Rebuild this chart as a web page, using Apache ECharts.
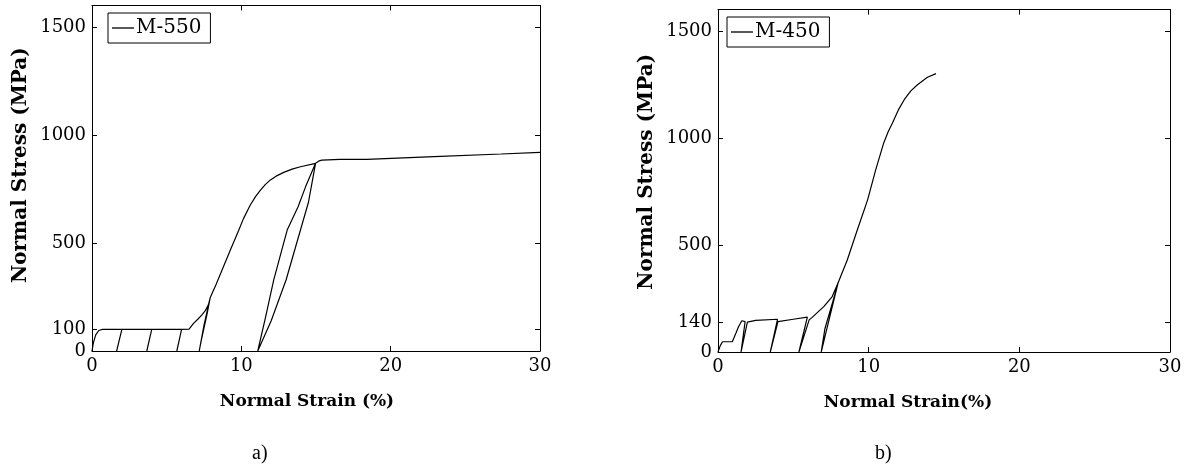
<!DOCTYPE html>
<html>
<head>
<meta charset="utf-8">
<script src="https://cdn.jsdelivr.net/npm/echarts@6/dist/echarts.min.js"></script>
<style>
  html, body { margin: 0; padding: 0; background: #fff; }
  #chart { width: 1187px; height: 468px; }
</style>
</head>
<body>
<div id="chart"></div>
<script>
// M-550 test: strain (%) / stress (MPa), path in loading order
const strain550 = [0, 0.1, 0.25, 0.45, 0.7, 2.0, 1.65, 2.0, 4.0, 3.67, 4.0, 6.0, 5.68, 6.0, 6.5,
  6.6, 6.8, 7.1, 7.36, 7.6, 7.8, 7.92, 7.5, 7.18, 7.35, 7.7, 7.92,
  8.3, 8.8, 9.3, 9.82, 10.15, 10.6, 10.95, 11.28, 11.6, 11.95, 12.4, 12.84, 13.4, 13.96, 14.97,
  14.3, 13.8, 13.07, 12.17, 11.6, 11.1, 12.0, 13.0, 13.96, 14.5, 14.97,
  15.2, 15.4, 16.6, 18.4, 22.9, 27.4, 30];
const stress550 = [0, 40, 75, 95, 100, 100, 0, 100, 100, 0, 100, 100, 0, 100, 101,
  110, 128, 148, 167, 188, 215, 248, 120, 0, 60, 170, 248,
  307, 390, 473, 558, 614, 676, 715, 745, 770, 792, 812, 827, 842, 853, 869,
  760, 668, 560, 329, 150, 0, 140, 330, 560, 690, 869,
  880, 884, 887, 887, 900, 912, 920];

// M-450 test
const strain450 = [0, 0.15, 0.3, 0.95, 1.2, 1.36, 1.58, 1.8, 1.91, 1.53, 1.95, 2.5, 3.95, 3.47, 3.98,
  5.0, 5.93, 5.37, 6.05, 6.25, 7.02, 7.58, 7.98, 7.3, 6.85, 7.1, 7.6, 7.98,
  8.58, 9.25, 9.93, 10.47, 11.0, 11.3, 11.58, 12.0, 12.36, 12.8, 13.24, 13.9, 14.47];
const stress450 = [0, 30, 48, 48, 90, 118, 146, 142, 146, 0, 140, 148, 153, 0, 142,
  153, 163, 0, 150, 162, 212, 259, 325, 130, 0, 110, 230, 325,
  430, 571, 711, 852, 977, 1030, 1070, 1135, 1179, 1220, 1249, 1284, 1301];

const xTicks = [0, 10, 20, 30];
const yTicksA = [0, 100, 500, 1000, 1500];
const yTicksB = [0, 140, 500, 1000, 1500];

const serif = 'DejaVu Serif';

function pairs(xs, ys) {
  return xs.map((x, i) => [x, ys[i]]);
}

const plain = (v) => String(v);

function xAxes(grid, namePad, name) {
  return [
    {
      gridIndex: grid, type: 'value', min: 0, max: 30, interval: 10,
      name: name, nameLocation: 'middle', nameGap: 42,
      nameTextStyle: { fontFamily: serif, fontWeight: 'bold', fontSize: 17, color: '#000', padding: namePad },
      axisLine: { onZero: false, lineStyle: { color: '#000', width: 1 } },
      axisTick: { inside: true, length: 5, lineStyle: { color: '#000' } },
      axisLabel: { fontFamily: serif, fontSize: 18, color: '#000', margin: 6, formatter: plain },
      splitLine: { show: false }
    },
    {
      gridIndex: grid, type: 'value', position: 'top', min: 0, max: 30, interval: 10,
      axisLine: { onZero: false, lineStyle: { color: '#000', width: 1 } },
      axisTick: { inside: true, length: 5, lineStyle: { color: '#000' } },
      axisLabel: { show: false },
      splitLine: { show: false }
    }
  ];
}

function yAxes(grid, ticks, namePad) {
  return [
    {
      gridIndex: grid, type: 'value', min: 0, max: 1600,
      name: 'Normal Stress (MPa)', nameLocation: 'middle', nameGap: 61,
      nameTextStyle: { fontFamily: serif, fontWeight: 'bold', fontSize: 20, color: '#000', padding: namePad },
      axisLine: { onZero: false, lineStyle: { color: '#000', width: 1 } },
      axisTick: { inside: true, length: 5, customValues: ticks, lineStyle: { color: '#000' } },
      axisLabel: { fontFamily: serif, fontSize: 18, color: '#000', margin: 6, customValues: ticks, formatter: plain },
      splitLine: { show: false }
    },
    {
      gridIndex: grid, type: 'value', position: 'right', min: 0, max: 1600,
      axisLine: { onZero: false, lineStyle: { color: '#000', width: 1 } },
      axisTick: { inside: true, length: 5, customValues: ticks, lineStyle: { color: '#000' } },
      axisLabel: { show: false },
      splitLine: { show: false }
    }
  ];
}

function legendBox(left, top, name) {
  return {
    data: [name], left: left, top: top,
    orient: 'vertical',
    icon: 'rect', itemWidth: 22, itemHeight: 1.3,
    padding: [5, 9, 5, 4],
    borderColor: '#000', borderWidth: 1, borderRadius: 0,
    backgroundColor: '#fff',
    textStyle: { fontFamily: serif, fontSize: 20, color: '#000', padding: [0, 0, 0, -3] },
    selectedMode: false
  };
}

const chart = echarts.init(document.getElementById('chart'), null, { renderer: 'canvas' });

chart.setOption({
  animation: false,
  backgroundColor: '#fff',
  grid: [
    { left: 92, top: 5.4, width: 448, height: 345.6 },
    { left: 718, top: 9.6, width: 452, height: 342.4 }
  ],
  xAxis: [].concat(xAxes(0, [0, 18, 0, 0], 'Normal Strain (%)'), xAxes(1, [0, 72, 0, 0], 'Normal Strain(%)')),
  yAxis: [].concat(yAxes(0, yTicksA, [0, 0, 0, 26]), yAxes(1, yTicksB, [0, 0, 0, 18])),
  legend: [legendBox(108, 13, 'M-550'), legendBox(727, 17, 'M-450')],
  graphic: [
    { type: 'text', left: 252, top: 444, style: { text: 'a)', font: '20px "Liberation Serif"', fill: '#000' } },
    { type: 'text', left: 875, top: 444, style: { text: 'b)', font: '20px "Liberation Serif"', fill: '#000' } }
  ],
  series: [
    {
      name: 'M-550', type: 'line', xAxisIndex: 0, yAxisIndex: 0,
      data: pairs(strain550, stress550),
      showSymbol: false, smooth: false,
      lineStyle: { color: '#000', width: 1.2 },
      itemStyle: { color: '#000' }
    },
    {
      name: 'M-450', type: 'line', xAxisIndex: 2, yAxisIndex: 2,
      data: pairs(strain450, stress450),
      showSymbol: false, smooth: false,
      lineStyle: { color: '#000', width: 1.2 },
      itemStyle: { color: '#000' }
    }
  ]
});
</script>
</body>
</html>
